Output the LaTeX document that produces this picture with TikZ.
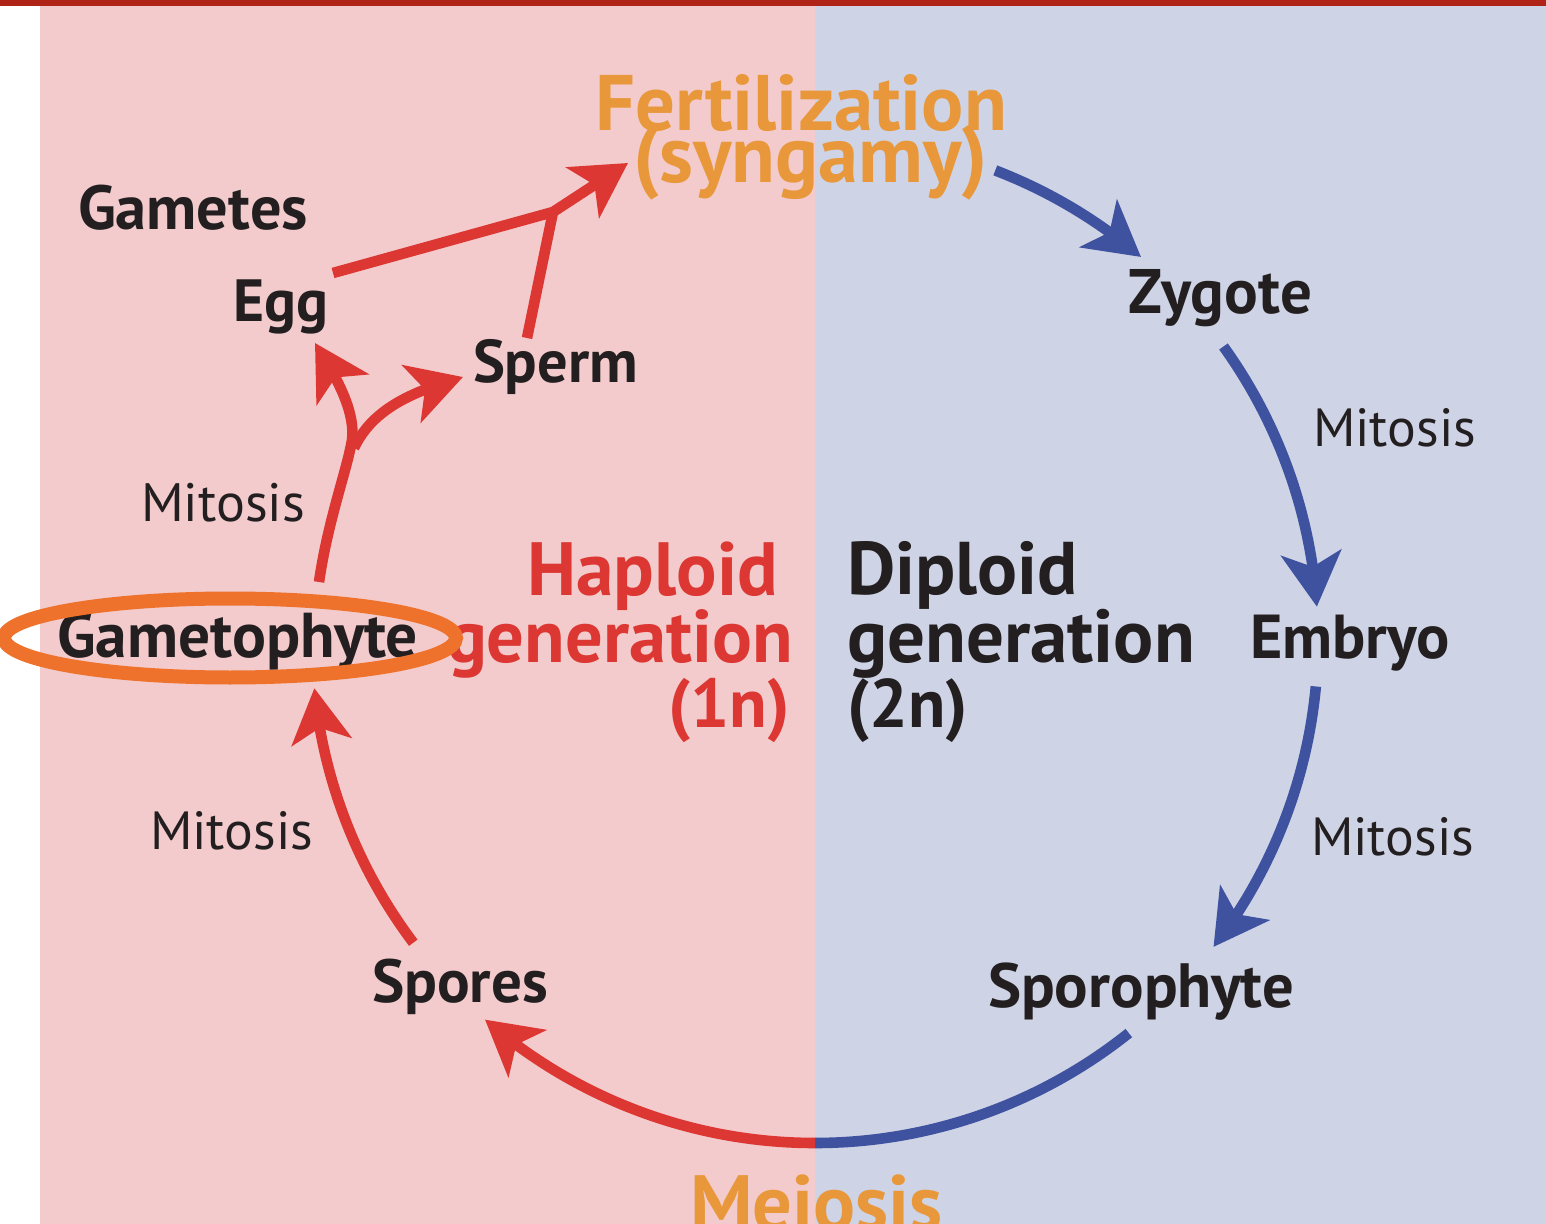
\documentclass[tikz,border=0pt]{standalone}
\usepackage{fontspec}
\setmainfont{PT Sans}
\usetikzlibrary{arrows.meta,bending,calc}
\definecolor{pinkbg}{RGB}{243,203,204}
\definecolor{bluebg}{RGB}{206,211,229}
\definecolor{topbar}{RGB}{176,36,24}
\definecolor{redarr}{RGB}{220,55,50}
\definecolor{bluearr}{RGB}{62,82,160}
\definecolor{orangetxt}{RGB}{232,152,58}
\definecolor{ellorange}{RGB}{238,114,44}
\definecolor{inkblack}{RGB}{35,31,32}
\newcommand\fw[2]{\resizebox{#1}{!}{#2}}
\tikzset{
  lbl/.style={inner sep=0pt, outer sep=0pt, text=inkblack, font=\fontsize{28}{30}\selectfont\bfseries},
  mit/.style={inner sep=0pt, outer sep=0pt, text=inkblack, font=\fontsize{28}{30}\selectfont},
  orng/.style={lbl, text=orangetxt},
  redtxt/.style={lbl, text=redarr},
  arr/.style={-{Stealth[length=27pt,width=30pt,inset=7pt]}},
  redA/.style={draw=redarr, line width=5.3pt},
  blueA/.style={draw=bluearr, line width=5.3pt},
}
\begin{document}
\begin{tikzpicture}[x=0.5pt,y=-0.5pt]
\useasboundingbox (0,0) rectangle (1546,1224);
\clip (0,0) rectangle (1546,1224);
% backgrounds
\fill[white] (0,0) rectangle (1546,1224);
\fill[pinkbg] (40,0) rectangle (815,1224);
\fill[bluebg] (815,0) rectangle (1546,1224);
\fill[topbar] (0,0) rectangle (1546,6);

% labels
\node[orng, anchor=base west] (fert) at (595,131) {\fw{206pt}{Fertilization}};
\node[orng, anchor=base west] (syn) at (633,183) {\fw{177.5pt}{(syngamy)}};
\node[lbl, anchor=base west] (gametes) at (78,230) {\fw{115pt}{Gametes}};
\node[lbl, anchor=base west] (egg) at (233,322) {\fw{47.5pt}{Egg}};
\node[lbl, anchor=base west] (sperm) at (473,383) {\fw{82.5pt}{Sperm}};
\node[mit, anchor=base west] (mitA) at (141,522) {\fw{82pt}{Mitosis}};
\node[redtxt, anchor=base east] (haploid) at (778,595) {\fw{125.5pt}{Haploid}};
\node[redtxt, anchor=base east] (genL) at (793,662) {\fw{173pt}{generation}};
\node[redtxt, anchor=base east] (onen) at (790,727) {\fw{61pt}{(1n)}};
\node[lbl, anchor=base west] (gametophyte) at (57,657) {\fw{180.5pt}{Gametophyte}};
\node[lbl, anchor=base west] (diploid) at (847,595) {\fw{115.5pt}{Diploid}};
\node[lbl, anchor=base west] (genR) at (847,662) {\fw{174pt}{generation}};
\node[lbl, anchor=base west] (twon) at (847,727) {\fw{60.5pt}{(2n)}};
\node[lbl, anchor=base west] (zygote) at (1128,314) {\fw{92pt}{Zygote}};
\node[mit, anchor=base west] (mitB) at (1313,447) {\fw{81.5pt}{Mitosis}};
\node[lbl, anchor=base west] (embryo) at (1250,658) {\fw{100pt}{Embryo}};
\node[mit, anchor=base west] (mitC) at (1311,855) {\fw{81.5pt}{Mitosis}};
\node[lbl, anchor=base west] (sporophyte) at (988,1007) {\fw{153pt}{Sporophyte}};
\node[lbl, anchor=base west] (spores) at (372,1002) {\fw{88pt}{Spores}};
\node[mit, anchor=base west] (mitD) at (150,849) {\fw{81.5pt}{Mitosis}};
\node[orng, anchor=base west] (meiosis) at (690,1230) {\fw{126.5pt}{Meiosis}};

% cycle geometry
\coordinate (c) at (815,640);
\def\R{251.5pt}
\coordinate (fertOut) at ($(c)+(69:\R)$);
\coordinate (zygOut) at ($(c)+(35.7:\R)$);
\coordinate (embOut) at ($(c)+(-5.3:\R)$);
\coordinate (sporOut) at ($(c)+(-51.4:\R)$);
\coordinate (meio) at ($(c)+(-90:\R)$);
\coordinate (sporesOut) at ($(c)+(217:\R)$);

\draw[blueA, arr] (fertOut) arc[start angle=69, end angle=49.6, radius=\R];
\draw[blueA, arr] (zygOut) arc[start angle=35.7, end angle=3.8, radius=\R];
\draw[blueA, arr] (embOut) arc[start angle=-5.3, end angle=-37.6, radius=\R];
\draw[blueA] (sporOut) arc[start angle=-51.4, end angle=-90, radius=\R];
\draw[redA, arr] (meio) arc[start angle=-90, end angle=-131, radius=\R];
\draw[redA, arr] (sporesOut) arc[start angle=217, end angle=185.5, radius=\R];

% gametophyte -> egg / sperm
\coordinate (gphOut) at (319,582);
\coordinate (fork) at (352,440);
\coordinate (eggIn) at (315,343);
\coordinate (spermIn) at (463,377);
\draw[redA, arr] (gphOut) .. controls (328,520) and (347,470) .. (fork)
   .. controls (355,415) and (342,385) .. (eggIn);
\draw[redA, arr] ($(fork)+(2,8)$) .. controls (372,410) and (410,392) .. (spermIn);

% gametes -> fertilization
\coordinate (eggOut) at (333,273);
\coordinate (join) at (553,212);
\coordinate (fertIn) at (628,163);
\coordinate (spermOut) at (527,338);
\draw[redA] (spermOut) -- (join);
\draw[redA, arr] (eggOut) -- (join) -- (fertIn);

% highlight ellipse
\draw[ellorange, line width=7pt] (230,638) ellipse [x radius=113pt, y radius=19.75pt];
\end{tikzpicture}
\end{document}
